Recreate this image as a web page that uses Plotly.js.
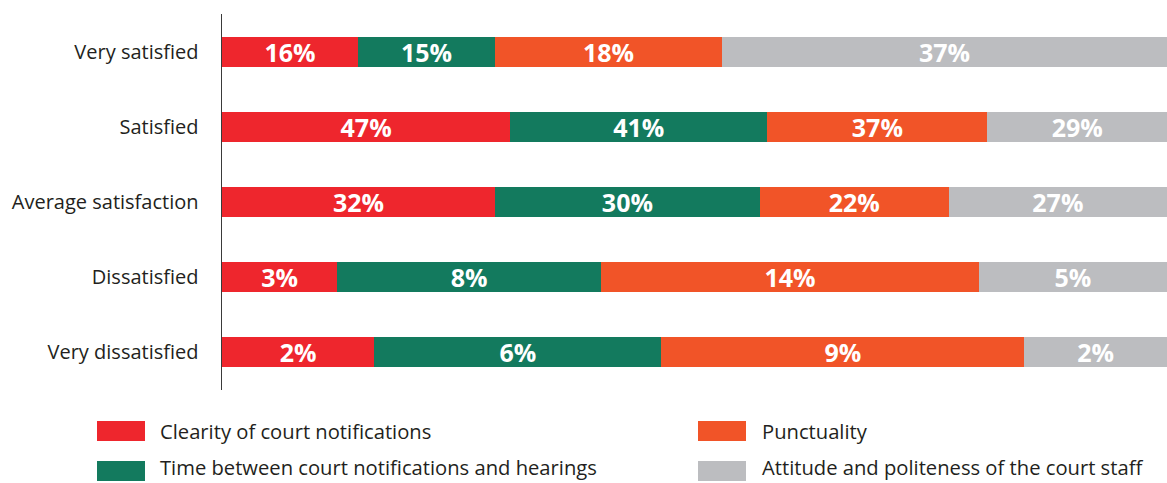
<!DOCTYPE html>
<html>
<head>
<meta charset="utf-8">
<script src="https://cdn.plot.ly/plotly-3.0.1.min.js"></script>
<style>
  html, body { margin: 0; padding: 0; background: #ffffff; }
  #chart { width: 1167px; height: 483px; }
</style>
</head>
<body>
<div id="chart"></div>
<script>
// Categories (top to bottom)
const categories = ["Very satisfied", "Satisfied", "Average satisfaction", "Dissatisfied", "Very dissatisfied"];

// Series names
const seriesNames = [
  "Clearity of court notifications",
  "Time between court notifications and hearings",
  "Punctuality",
  "Attitude and politeness of the court staff"
];

// Percentages printed on the bars
const clarityLabels     = [16, 47, 32, 3, 2];
const timeLabels        = [15, 41, 30, 8, 6];
const punctualityLabels = [18, 37, 22, 14, 9];
const attitudeLabels    = [37, 29, 27, 5, 2];

// Bar lengths as drawn (share of each row, %)
const clarityShare     = [14.4, 30.5, 28.9, 12.2, 16.1];
const timeShare        = [14.5, 27.2, 28.0, 27.9, 30.4];
const punctualityShare = [24.0, 23.3, 20.0, 40.0, 38.4];
const attitudeShare    = [47.1, 19.0, 23.1, 19.9, 15.1];

const colors = ["#EE262D", "#137A5E", "#F15428", "#BCBDC0"];

const shares = [clarityShare, timeShare, punctualityShare, attitudeShare];
const labels = [clarityLabels, timeLabels, punctualityLabels, attitudeLabels];

const FONT = "'Open Sans', 'Noto Sans', sans-serif";
const TEXTCOL = "#231F20";

const traces = shares.map((vals, i) => ({
  type: "bar",
  orientation: "h",
  name: seriesNames[i],
  y: categories,
  x: vals,
  marker: { color: colors[i], line: { width: 0 } },
  text: labels[i].map(v => v + "%"),
  textposition: "inside",
  insidetextanchor: "middle",
  constraintext: "none",
  textangle: 0,
  insidetextfont: { family: FONT, size: 25, color: "#ffffff", weight: 700 },
  hoverinfo: "skip",
  showlegend: false
}));

// Custom legend (large swatches) in paper coordinates
const legendPos = [
  { x0: 97,  x1: 145, y: 431, ty: 431, tx: 158 },
  { x0: 97,  x1: 145, y: 471, ty: 467, tx: 158 },
  { x0: 698, x1: 746, y: 431, ty: 431, tx: 760 },
  { x0: 698, x1: 746, y: 471, ty: 467, tx: 760 }
];
const W = 1167, H = 483;
const M = { l: 222, r: 0, t: 14, b: 93 };
const pw = W - M.l - M.r, ph = H - M.t - M.b;
const px = x => (x - M.l) / pw;
const py = y => (H - M.b - y) / ph;

const shapes = [];
const annotations = [];
seriesNames.forEach((name, i) => {
  const p = legendPos[i];
  shapes.push({
    type: "rect", xref: "paper", yref: "paper",
    x0: px(p.x0), x1: px(p.x1), y0: py(p.y + 10), y1: py(p.y - 10),
    fillcolor: colors[i], line: { width: 0 }
  });
  annotations.push({
    xref: "paper", yref: "paper", x: px(p.tx), y: py(p.ty),
    xanchor: "left", yanchor: "middle", showarrow: false,
    text: name, font: { family: FONT, size: 20.2, color: TEXTCOL }
  });
});

const layout = {
  width: W, height: H,
  margin: M,
  paper_bgcolor: "#ffffff",
  plot_bgcolor: "#ffffff",
  barmode: "stack",
  bargap: 0.6,
  showlegend: false,
  font: { family: FONT, color: TEXTCOL },
  xaxis: {
    range: [0, 100], showticklabels: false, showgrid: false,
    zeroline: false, showline: false, ticks: "", fixedrange: true
  },
  yaxis: {
    type: "category", autorange: "reversed",
    showline: true, linecolor: "#3a3a3a", linewidth: 1.5,
    showgrid: false, zeroline: false, ticks: "",
    ticklabelstandoff: 18,
    tickfont: { family: FONT, size: 20, color: TEXTCOL },
    fixedrange: true
  },
  shapes: shapes,
  annotations: annotations
};

Plotly.newPlot("chart", traces, layout, { displayModeBar: false, staticPlot: true });
</script>
</body>
</html>
